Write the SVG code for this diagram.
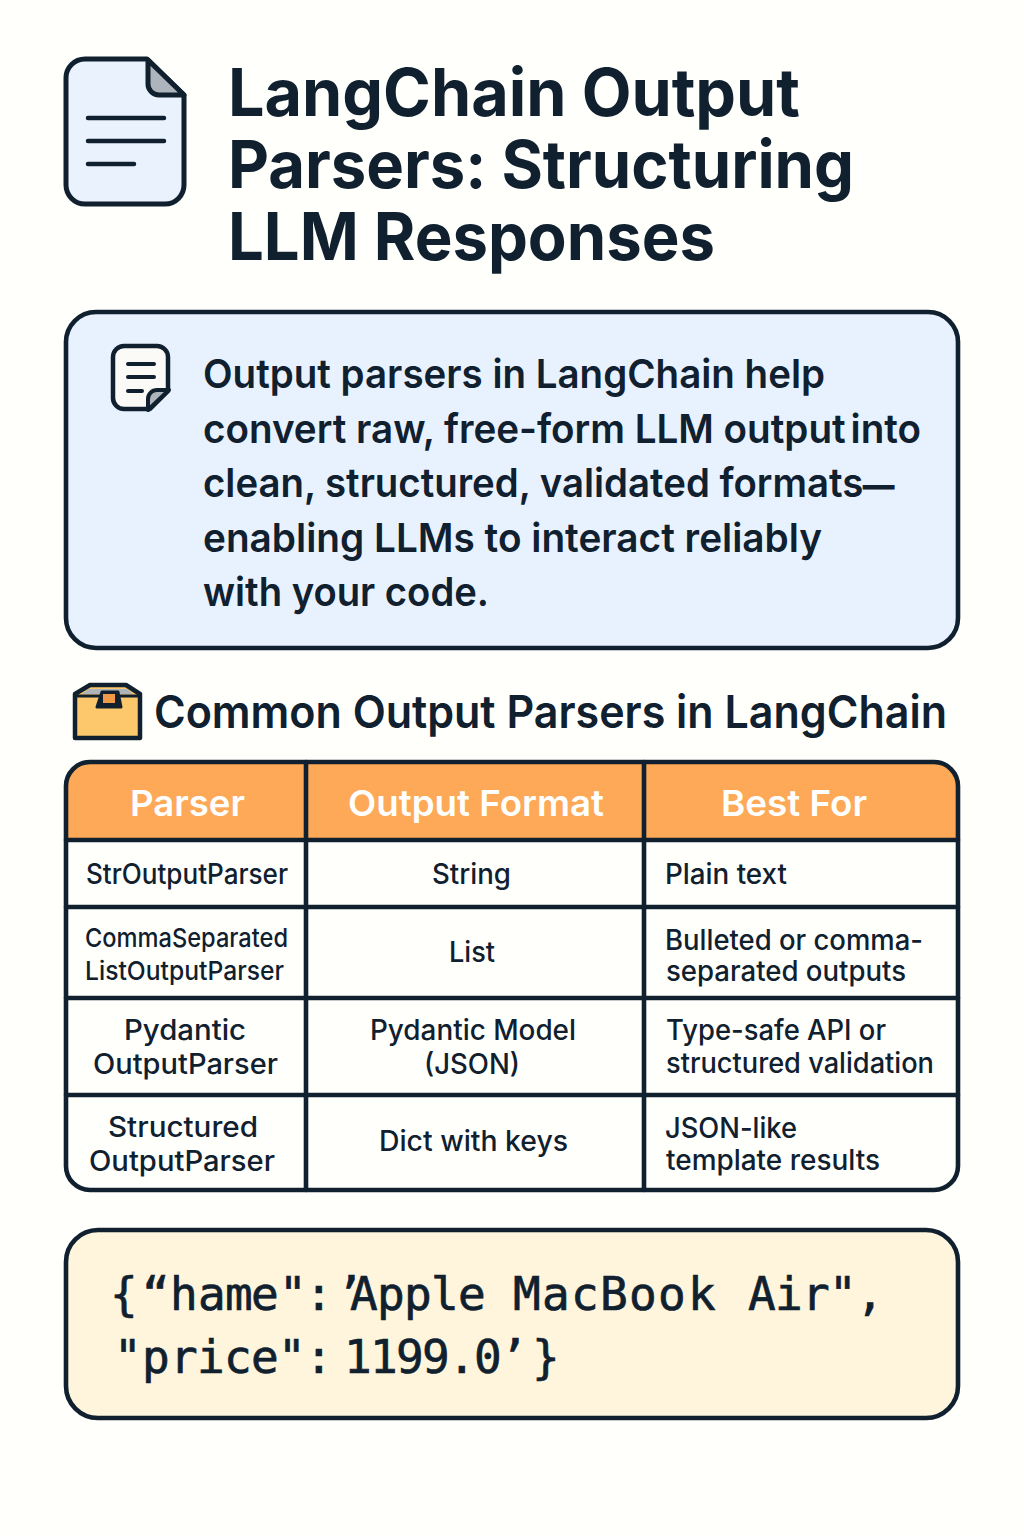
<svg xmlns="http://www.w3.org/2000/svg" width="1024" height="1536" viewBox="0 0 1024 1536">
<style>
text{font-family:Inter,"Liberation Sans",sans-serif;fill:#10202f}
.ln{fill:none;stroke:#10202f;stroke-linecap:round;stroke-linejoin:round}
.s{stroke:#10202f;stroke-linejoin:round}
.t{font-size:66px;font-weight:700}
.b{font-size:40px;font-weight:600}
.h2{font-size:45px;font-weight:600}
.th{font-size:36px;font-weight:600;fill:#fff}
.c{font-size:28px;font-weight:500}
.code{font-family:"DejaVu Sans Mono","Liberation Mono",monospace;font-size:46px;stroke:#10202f;stroke-width:.7}
</style>
<rect width="1024" height="1536" fill="#fffffc"/>
<g id="doc-icon">
<path class="s" d="M85 59H147L184 95V185A19 19 0 0 1 165 204H85A19 19 0 0 1 66 185V78A19 19 0 0 1 85 59Z" fill="#eaf3fd" stroke-width="5"/>
<path class="s" d="M148 60V84A11 11 0 0 0 159 95H184Z" fill="#aeb4bb" stroke-width="5"/>
<path class="ln" stroke-width="4.5" d="M88 118H164M88 141H164M88 164H134"/>
</g>
<g id="title">
<text class="t" x="228" y="116" textLength="572" lengthAdjust="spacingAndGlyphs">LangChain Output</text>
<text class="t" x="228" y="188" textLength="626" lengthAdjust="spacingAndGlyphs">Parsers: Structuring</text>
<text class="t" x="228" y="260" textLength="487" lengthAdjust="spacingAndGlyphs">LLM Responses</text>
</g>
<g id="intro">
<rect x="66" y="312" width="892" height="336" rx="30" fill="#e8f2fe" stroke="#10202f" stroke-width="4.6"/>
<path class="s" d="M124 346H157A11 11 0 0 1 168 357V391L150 409H124A11 11 0 0 1 113 398V357A11 11 0 0 1 124 346Z" fill="#fbfaf7" stroke-width="4.5"/>
<path class="s" d="M169 390H157A9 9 0 0 0 148 399V410Z" fill="#aeb4bb" stroke-width="4"/>
<path class="ln" stroke-width="4" d="M128 364H154M128 377H154M128 391H142"/>
<text class="b" x="203" y="388" textLength="622" lengthAdjust="spacingAndGlyphs">Output parsers in LangChain help</text>
<text class="b" x="203" y="443" textLength="718" lengthAdjust="spacingAndGlyphs">convert raw, free-form LLM output<tspan style="font-size:20px"> </tspan>into</text>
<text class="b" x="203" y="497" textLength="691" lengthAdjust="spacingAndGlyphs">clean, structured, validated formats<tspan style="font-size:32px;stroke:#10202f;stroke-width:1.2">—</tspan></text>
<text class="b" x="203" y="552" textLength="619" lengthAdjust="spacingAndGlyphs">enabling LLMs to interact reliably</text>
<text class="b" x="203" y="606" textLength="286" lengthAdjust="spacingAndGlyphs">with your code.</text>
</g>
<g id="section-heading">
<path class="s" d="M75 738V694L90 685H126L140 694V738Z" fill="#fdc76b" stroke-width="4.5"/>
<path d="M82 694L89 689H127L133 694Z" fill="#aeb4bb"/>
<path d="M77 696H138" stroke="#10202f" stroke-width="3"/>
<path class="s" d="M97 707L102 692H118L121 707Z" fill="#10202f" stroke-width="3"/>
<rect x="103" y="694" width="12" height="9" fill="#ee9a48"/>
<text class="h2" x="154" y="728" textLength="793" lengthAdjust="spacingAndGlyphs">Common Output Parsers in LangChain</text>
</g>
<g id="table">
<rect x="66" y="762" width="892" height="428" rx="24" fill="#fffffc"/>
<path d="M90 762H934A24 24 0 0 1 958 786V840H66V786A24 24 0 0 1 90 762Z" fill="#fea957"/>
<rect x="66" y="762" width="892" height="428" rx="24" fill="none" stroke="#10202f" stroke-width="4.6"/>
<path class="ln" stroke-width="4.6" stroke-linecap="butt" d="M66 840H958M66 907H958M66 998H958M66 1095H958M306 762V1190M644 762V1190"/>
<text class="th" x="130" y="816" textLength="115" lengthAdjust="spacingAndGlyphs">Parser</text>
<text class="th" x="348" y="816" textLength="256" lengthAdjust="spacingAndGlyphs">Output Format</text>
<text class="th" x="721" y="816" textLength="146" lengthAdjust="spacingAndGlyphs">Best For</text>
<text class="c" x="86" y="884" textLength="202" lengthAdjust="spacingAndGlyphs">StrOutputParser</text>
<text class="c" x="432" y="884" textLength="79" lengthAdjust="spacingAndGlyphs">String</text>
<text class="c" x="665" y="884" textLength="122" lengthAdjust="spacingAndGlyphs">Plain text</text>
<text class="c" x="85" y="947" textLength="203" lengthAdjust="spacingAndGlyphs" style="font-size:26px">CommaSeparated</text>
<text class="c" x="85" y="980" textLength="199" lengthAdjust="spacingAndGlyphs" style="font-size:26px">ListOutputParser</text>
<text class="c" x="449" y="962" textLength="46" lengthAdjust="spacingAndGlyphs">List</text>
<text class="c" x="665" y="950" textLength="258" lengthAdjust="spacingAndGlyphs">Bulleted or comma-</text>
<text class="c" x="666" y="981" textLength="240" lengthAdjust="spacingAndGlyphs">separated outputs</text>
<text class="c" x="124" y="1040" textLength="122" lengthAdjust="spacingAndGlyphs">Pydantic</text>
<text class="c" x="93" y="1074" textLength="185" lengthAdjust="spacingAndGlyphs">OutputParser</text>
<text class="c" x="370" y="1040" textLength="206" lengthAdjust="spacingAndGlyphs">Pydantic Model</text>
<text class="c" x="424" y="1074" textLength="96" lengthAdjust="spacingAndGlyphs">(JSON)</text>
<text class="c" x="666" y="1040" textLength="220" lengthAdjust="spacingAndGlyphs">Type-safe API or</text>
<text class="c" x="666" y="1073" textLength="268" lengthAdjust="spacingAndGlyphs">structured validation</text>
<text class="c" x="108" y="1137" textLength="150" lengthAdjust="spacingAndGlyphs">Structured</text>
<text class="c" x="89" y="1171" textLength="186" lengthAdjust="spacingAndGlyphs">OutputParser</text>
<text class="c" x="379" y="1151" textLength="189" lengthAdjust="spacingAndGlyphs">Dict with keys</text>
<text class="c" x="665" y="1138" textLength="132" lengthAdjust="spacingAndGlyphs">JSON-like</text>
<text class="c" x="666" y="1170" textLength="214" lengthAdjust="spacingAndGlyphs">template results</text>
</g>
<g id="code">
<rect x="66" y="1230" width="892" height="188" rx="32" fill="#fef5dc" stroke="#10202f" stroke-width="4.6"/>
<text class="code" y="1310" x="110 142 170 198 225 251 279 305 336 350 377 404 431 458 485 513 542 571 600 629 658 688 716 748 775 802 829 856">{“hame":’Apple MacBook Air",</text>
<text class="code" y="1373" x="114 142 170 197 224 251 278 305 344 370 396 422 448 474 500 532">"price":1199.0’}</text>
</g>
</svg>
